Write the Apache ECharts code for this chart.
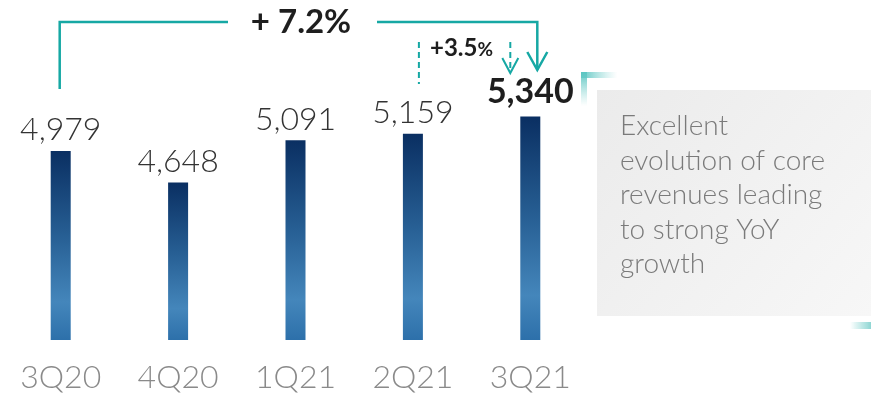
<!DOCTYPE html>
<html>
<head>
<meta charset="utf-8">
<script src="https://cdn.jsdelivr.net/npm/echarts@6/dist/echarts.min.js"></script>
<style>
html,body{margin:0;padding:0;background:#fff;}
#c{width:871px;height:396px;}
</style>
</head>
<body>
<div id="c"></div>
<script>
// ---- data ----
const categories = ['3Q20', '4Q20', '1Q21', '2Q21', '3Q21'];
const values = [4979, 4648, 5091, 5159, 5340];
const highlightIndex = 4;
const yoyText = '+ 7.2%';
const qoqValue = '+3.5';
const noteLines = ['Excellent', 'evolution of core', 'revenues leading', 'to strong YoY', 'growth'];

const FONT = 'Lato';
const TEAL = '#16a8a4';

const chart = echarts.init(document.getElementById('c'), null, {renderer: 'canvas'});

const barColor = new echarts.graphic.LinearGradient(0, 0, 0, 1, [
  {offset: 0, color: '#0a2f62'},
  {offset: 0.45, color: '#275f94'},
  {offset: 0.8, color: '#4486bb'},
  {offset: 1, color: '#2d70aa'}
]);

const data = values.map((v, i) => {
  const item = {value: v};
  if (i === highlightIndex) {
    item.label = {fontWeight: 'bold', color: '#1e1e1e', fontSize: 34, distance: 7};
  }
  return item;
});

chart.setOption({
  animation: false,
  grid: {left: 2, width: 587, top: 53.5, bottom: 56},
  xAxis: {
    type: 'category',
    data: categories,
    axisLine: {show: false},
    axisTick: {show: false},
    axisLabel: {color: '#8a8a8a', fontSize: 32, fontFamily: FONT, fontWeight: 300, margin: 22}
  },
  yAxis: {
    type: 'value', min: 3000, max: 6000, show: false
  },
  series: [{
    type: 'bar',
    data: data,
    barWidth: 20,
    itemStyle: {color: barColor},
    label: {
      show: true, position: 'top', distance: 5,
      color: '#333', fontSize: 32, fontFamily: FONT, fontWeight: 300,
      formatter: p => p.value.toLocaleString('en-US')
    }
  }]
});

const px = i => chart.convertToPixel({xAxisIndex: 0, yAxisIndex: 0}, [i, values[i]]);
const x0 = px(0)[0];
const x3 = px(3)[0];
const x4 = px(4)[0];

const lineStyle = {stroke: TEAL, lineWidth: 2.5, fill: null};
const dashStyle = {stroke: TEAL, lineWidth: 2, fill: null, lineDash: [6, 4]};

const graphics = [
  // note box decorations
  {type: 'rect', shape: {x: 581, y: 72, width: 36, height: 6}, style: {fill: new echarts.graphic.LinearGradient(0, 0, 1, 0, [{offset: 0, color: '#5cc6c2'}, {offset: 1, color: 'rgba(140,215,212,0)'}])}},
  {type: 'rect', shape: {x: 581, y: 72, width: 6, height: 34}, style: {fill: new echarts.graphic.LinearGradient(0, 0, 0, 1, [{offset: 0, color: '#5cc6c2'}, {offset: 1, color: 'rgba(140,215,212,0)'}])}},
  {type: 'rect', shape: {x: 850, y: 322, width: 21, height: 7}, style: {fill: new echarts.graphic.LinearGradient(0, 0, 1, 0, [{offset: 0, color: 'rgba(140,215,212,0)'}, {offset: 1, color: '#8fd6d3'}])}},
  {type: 'rect', shape: {x: 597, y: 90, width: 274, height: 226}, style: {fill: new echarts.graphic.LinearGradient(0, 0, 1, 1, [{offset: 0, color: '#ebebeb'}, {offset: 1, color: '#f7f7f7'}])}},
  {type: 'text', x: 620, y: 109, z: 10, style: {text: noteLines.join('\n'), font: '300 28px ' + FONT, fill: '#7a7a7a', lineHeight: 34.5, verticalAlign: 'top'}},
  // YoY bracket
  {type: 'polyline', shape: {points: [[x0 - 1, 89], [x0 - 1, 22], [228, 22]]}, style: lineStyle},
  {type: 'polyline', shape: {points: [[377, 22], [x4 + 7, 22], [x4 + 7, 70]]}, style: lineStyle},
  {type: 'polyline', shape: {points: [[x4 - 3, 52], [x4 + 7, 70], [x4 + 17, 52]]}, style: lineStyle},
  {type: 'text', x: 301, y: 22, style: {text: yoyText, font: 'bold 33px ' + FONT, fill: '#1e1e1e', align: 'center', verticalAlign: 'middle'}},
  // QoQ dashed bracket
  {type: 'line', shape: {x1: x3 + 6, y1: 42, x2: x3 + 6, y2: 84}, style: dashStyle},
  {type: 'line', shape: {x1: x4 - 20, y1: 42, x2: x4 - 20, y2: 72}, style: dashStyle},
  {type: 'polyline', shape: {points: [[x4 - 28, 58], [x4 - 20, 73], [x4 - 12, 58]]}, style: {stroke: TEAL, lineWidth: 2, fill: null}},
  {type: 'text', x: 430, y: 48, style: {
    text: '{a|' + qoqValue + '}{b|%}', verticalAlign: 'middle',
    rich: {a: {font: 'bold 24px ' + FONT, fill: '#1e1e1e'}, b: {font: 'bold 19px ' + FONT, fill: '#1e1e1e', padding: [3, 0, 0, 0]}}
  }}
];

chart.setOption({graphic: graphics});
</script>
</body>
</html>
